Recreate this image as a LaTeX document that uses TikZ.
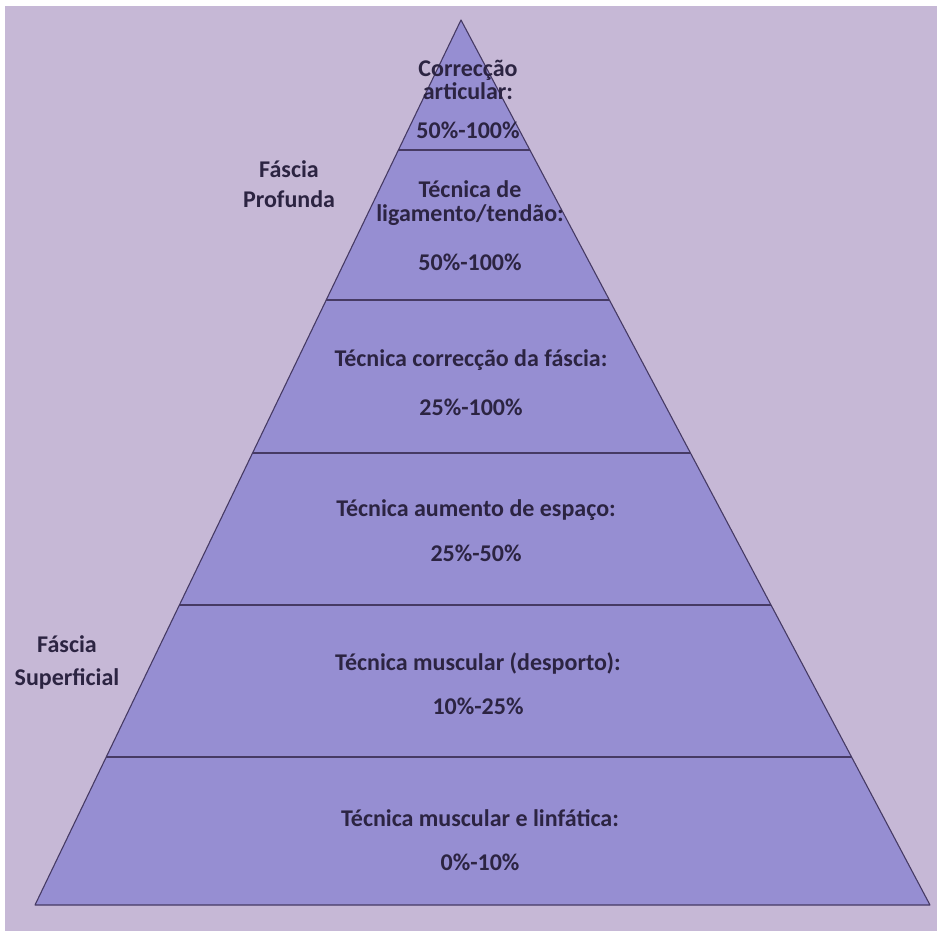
\documentclass[tikz,border=0pt]{standalone}
\usepackage{fontspec}
\setmainfont{Carlito}
\usetikzlibrary{calc}
\definecolor{page}{RGB}{198,184,214}
\definecolor{band}{RGB}{150,142,210}
\definecolor{ink}{RGB}{44,36,66}
\definecolor{edge}{RGB}{70,58,100}
\tikzset{
  lbl/.style={text=ink,font=\fontsize{24}{25}\selectfont\bfseries,align=center,inner sep=0pt},
  sep/.style={draw=edge,line width=1.1pt}
}
\begin{document}
\begin{tikzpicture}[x=1pt,y=-1pt]
\useasboundingbox (0,0) rectangle (937,931);
\fill[white] (0,0) rectangle (937,931);
\fill[page] (5,6) rectangle (937,931);
\coordinate (A) at (461,20);
\coordinate (L) at (35,905);
\coordinate (R) at (930,905);
\fill[band] (A) -- (L) -- (R) -- cycle;
\foreach \t in {0.1469,0.3164,0.4893,0.661,0.8328}
  \draw[sep] ($(A)!\t!(L)$) -- ($(A)!\t!(R)$);
\draw[edge,line width=1.1pt,line join=round] (A) -- (L) -- (R) -- cycle;
\node[lbl] (top) at (468,80) {Correcção\\[-2pt]articular:};
\node[lbl] (topp) at (468,130) {50\%-100\%};
\node[lbl] (lig) at (470,203) {Técnica de\\[-1pt]ligamento/tendão:};
\node[lbl] (ligp) at (470,262) {50\%-100\%};
\node[lbl] (fas) at (471,360) {Técnica correcção da fáscia:};
\node[lbl] (fasp) at (471,407) {25\%-100\%};
\node[lbl] (esp) at (476,510) {Técnica aumento de espaço:};
\node[lbl] (espp) at (476,553) {25\%-50\%};
\node[lbl] (mus) at (478,663) {Técnica muscular (desporto):};
\node[lbl] (musp) at (478,706) {10\%-25\%};
\node[lbl] (lin) at (480,818) {Técnica muscular e linfática:};
\node[lbl] (linp) at (480,862) {0\%-10\%};
\node[lbl] (prof) at (289,184) {Fáscia\\[5pt]Profunda};
\node[lbl] (sup) at (67,662) {Fáscia\\[8pt]Superficial};
\end{tikzpicture}
\end{document}
